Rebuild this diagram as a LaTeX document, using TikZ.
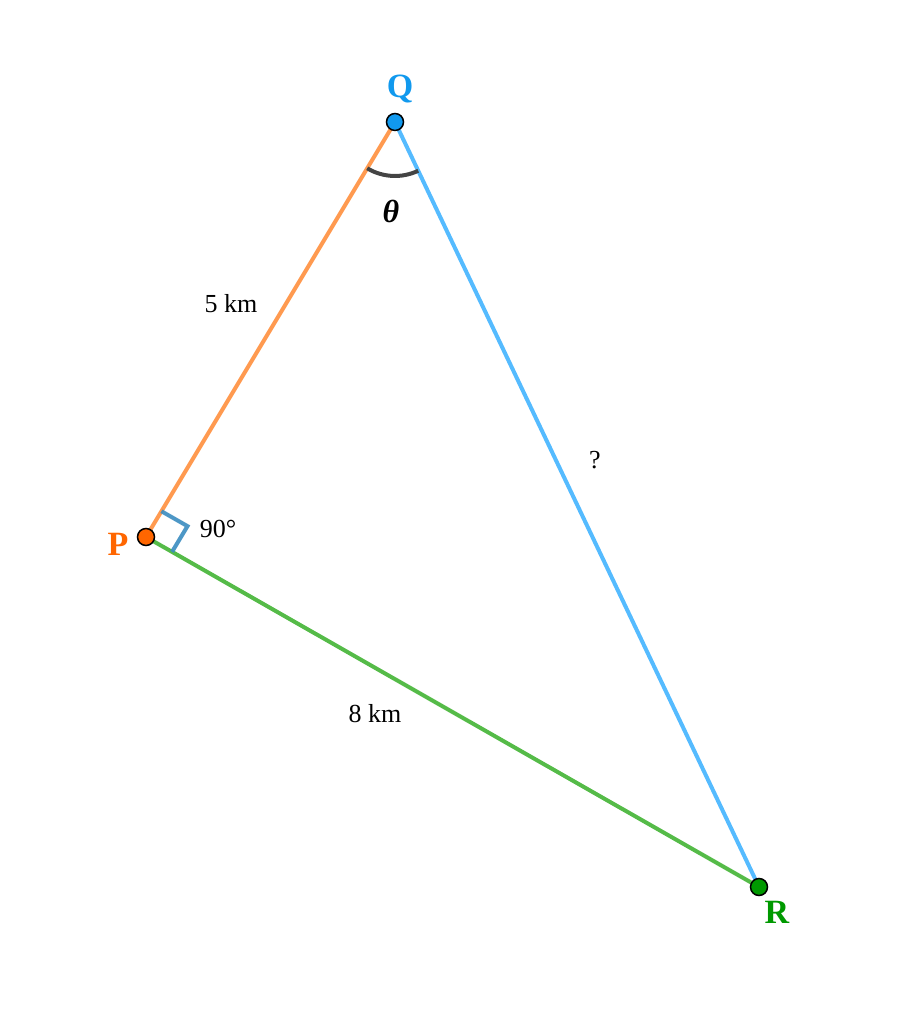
\documentclass[tikz,border=0pt]{standalone}
\usepackage{fontspec}
\setmainfont{Liberation Serif}
\usetikzlibrary{calc}
\definecolor{orangeline}{HTML}{FF9A50}
\definecolor{blueline}{HTML}{55BBFF}
\definecolor{greenline}{HTML}{55BB48}
\definecolor{qfill}{HTML}{1199EE}
\definecolor{pfill}{HTML}{FF6600}
\definecolor{rfill}{HTML}{009900}
\definecolor{markblue}{HTML}{3A8CC0}
\definecolor{arcgray}{HTML}{444444}
\begin{document}
\begin{tikzpicture}[x=1pt,y=1pt,
  side/.style={line width=4pt},
  vertex/.style={circle,draw=black,line width=1.5pt,minimum size=17pt,inner sep=0pt},
  vlabel/.style={font=\bfseries\fontsize{34}{38}\selectfont},
  lenlabel/.style={font=\fontsize{26}{30}\selectfont}]
\useasboundingbox (0,0) rectangle (904,1024);
\coordinate (Q) at (395,902);
\coordinate (P) at (146,487);
\coordinate (R) at (759,137);
\draw[side,orangeline] (P) -- (Q);
\draw[side,blueline] (Q) -- (R);
\draw[side,greenline] (P) -- (R);
% right angle mark
\coordinate (pa) at ($(P)!30pt!(Q)$);
\coordinate (pb) at ($(P)!30pt!(R)$);
\coordinate (pc) at ($(pa)+(pb)-(P)$);
\draw[markblue,opacity=0.9,line width=4pt] (pa) -- (pc) -- (pb);
% angle arc at Q
\draw[arcgray,line width=4pt] let \p1=($(P)-(Q)$), \p2=($(R)-(Q)$),
  \n1={atan2(\y1,\x1)}, \n2={atan2(\y2,\x2)} in
  ($(Q)+(\n1:54pt)$) arc[start angle=\n1, end angle=\n2, radius=54pt];
% vertices
\node[vertex,fill=qfill] (q) at (Q) {};
\node[vertex,fill=pfill] (p) at (P) {};
\node[vertex,fill=rfill] (r) at (R) {};
% labels
\node[vlabel,text=qfill] (ql) at (400,935) {Q};
\node[vlabel,text=pfill] (pl) at (118,480) {P};
\node[vlabel,text=rfill] (rl) at (777,112) {R};
\node[font=\bfseries\itshape\fontsize{32}{36}\selectfont] (th) at (391,813) {θ};
\node[lenlabel] (l1) at (231,720) {5 km};
\node[lenlabel] (l2) at (595,564) {?};
\node[lenlabel] (l3) at (375,310) {8 km};
\node[lenlabel] (l4) at (218,495) {90°};
\end{tikzpicture}
\end{document}
